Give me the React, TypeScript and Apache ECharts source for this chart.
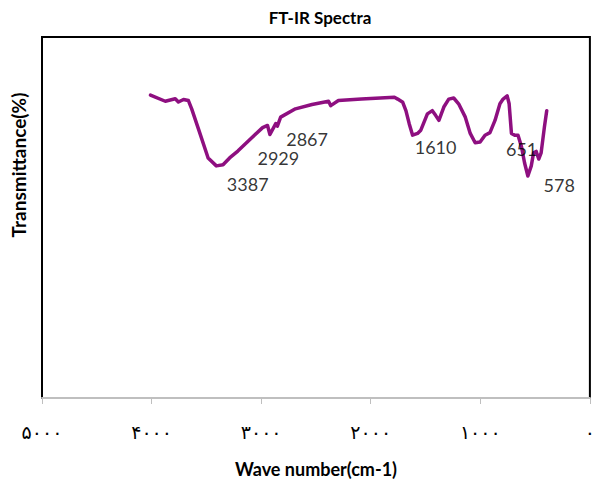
import React, { useEffect, useRef } from "react";
import * as echarts from "echarts";

// Wavenumber (cm-1) and transmittance (%)
const wavenumbers = [
  4010, 3875, 3784, 3755, 3709, 3664, 3634, 3574, 3484, 3409, 3348, 3288, 3213, 3093,
  2987, 2942, 2920, 2867, 2852, 2822, 2687, 2536, 2385, 2365, 2295, 2085, 1784, 1754,
  1708, 1679, 1649, 1618, 1573, 1543, 1483, 1438, 1408, 1378, 1333, 1288, 1243, 1198,
  1137, 1092, 1047, 1002, 957, 912, 866, 821, 792, 755, 737, 716, 686, 656, 625, 596,
  566, 535, 514, 490, 467, 445, 415, 394,
];
const transmittance = [
  83.9, 82.2, 82.9, 82.0, 82.7, 82.4, 80.1, 74.7, 66.5, 64.3, 64.6, 66.5, 68.4, 71.9,
  74.9, 75.5, 73.0, 76.0, 75.3, 77.8, 80.1, 81.3, 82.2, 81.0, 82.4, 82.8, 83.3, 82.8,
  81.9, 79.6, 76.0, 72.8, 73.3, 74.2, 78.7, 79.6, 78.3, 76.9, 80.6, 82.8, 83.1, 81.5,
  77.8, 73.3, 70.7, 70.9, 72.8, 73.5, 76.9, 81.5, 82.8, 83.7, 81.5, 73.3, 72.8, 72.8,
  69.7, 65.1, 61.5, 64.3, 67.9, 68.3, 66.2, 67.9, 75.1, 79.6,
];

// Peak annotation labels (text, label-centre wavenumber, label-centre transmittance)
const peakLabels = ["3387", "2929", "2867", "1610", "651", "578"];
const peakLabelX = [3123, 2843, 2581, 1408, 623, 280];
const peakLabelY = [59.4, 66.5, 71.7, 69.5, 68.9, 58.9];

const xTicks = [0, 1000, 2000, 3000, 4000, 5000];
const persianDigits = ["۰", "۱", "۲", "۳", "۴", "۵", "۶", "۷", "۸", "۹"];
const toPersian = (n: number) =>
  String(n)
    .split("")
    .map((c) => (c >= "0" && c <= "9" ? persianDigits[Number(c)] : c))
    .join("");

export default function App() {
  const ref = useRef<HTMLDivElement>(null);
  useEffect(() => {
    if (!ref.current) return;
    const chart = echarts.init(ref.current, undefined, { renderer: "svg" });
    const lineData = wavenumbers.map((w, i) => [w, transmittance[i]]);
    const labelData = peakLabels.map((t, i) => ({
      name: t,
      value: [peakLabelX[i], peakLabelY[i]],
    }));
    chart.setOption({
      animation: false,
      backgroundColor: "#fff",
      graphic: [
        {
          type: "text",
          x: 320,
          y: 17,
          style: {
            text: "FT-IR Spectra",
            align: "center",
            verticalAlign: "middle",
            fontFamily: "Lato",
            fontWeight: "bold",
            fontSize: 17,
            fill: "#000",
          },
        },
        {
          type: "text",
          x: 18,
          y: 165,
          rotation: Math.PI / 2,
          style: {
            text: "Transmittance(%)",
            align: "center",
            verticalAlign: "middle",
            fontFamily: "Lato",
            fontWeight: "bold",
            fontSize: 19,
            fill: "#000",
          },
        },
      ],
      grid: {
        left: 42,
        right: 2,
        top: 37,
        bottom: 79,
        show: true,
        borderColor: "#000",
        borderWidth: 2,
        backgroundColor: "transparent",
      },
      xAxis: {
        type: "value",
        inverse: true,
        min: 0,
        max: 5000,
        interval: 1000,
        name: "Wave number(cm-1)",
        nameLocation: "middle",
        nameGap: 62,
        nameTextStyle: {
          fontFamily: "Lato",
          fontWeight: "bold",
          fontSize: 18,
          color: "#000",
        },
        axisLine: { show: true, lineStyle: { color: "#BFBFBF", width: 2 } },
        axisTick: { show: true, length: 6, lineStyle: { color: "#BFBFBF", width: 1 } },
        axisLabel: {
          margin: 24,
          fontFamily: "DejaVu Sans",
          fontSize: 19,
          color: "#000",
          alignMinLabel: "center",
          alignMaxLabel: "center",
          formatter: (v: number) => (xTicks.includes(v) ? toPersian(v) : ""),
        },
        splitLine: { show: false },
      },
      yAxis: {
        type: "value",
        min: 0,
        max: 100,
        axisLine: { show: false },
        axisTick: { show: false },
        axisLabel: { show: false },
        splitLine: { show: false },
      },
      series: [
        {
          type: "line",
          data: lineData,
          showSymbol: false,
          symbol: "none",
          smooth: false,
          lineStyle: { color: "#8E0F80", width: 3.5, join: "round", cap: "round" },
          z: 3,
        },
        {
          type: "scatter",
          data: labelData,
          symbolSize: 0,
          label: {
            show: true,
            position: "inside",
            formatter: (p: any) => p.name,
            fontFamily: "Lato",
            fontSize: 18,
            color: "#000",
          },
          z: 4,
        },
      ],
    });
    return () => chart.dispose();
  }, []);
  return (
    <div
      ref={ref}
      style={{ position: "fixed", left: 0, top: 0, width: 598, height: 483, background: "#fff" }}
    />
  );
}
